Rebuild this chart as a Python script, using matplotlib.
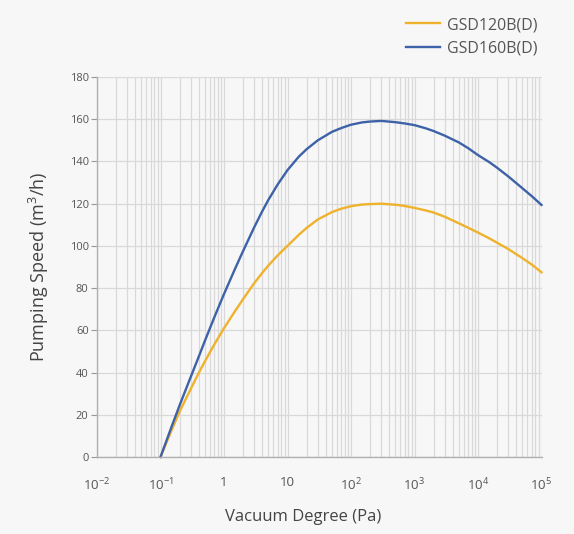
import matplotlib
matplotlib.use("Agg")
import matplotlib.pyplot as plt
from matplotlib.ticker import LogLocator, FixedLocator, NullFormatter

plt.rcParams['font.family'] = ['Open Sans', 'DejaVu Sans']
plt.rcParams['mathtext.fontset'] = 'custom'
plt.rcParams['mathtext.rm'] = 'Open Sans'
plt.rcParams['mathtext.it'] = 'Open Sans'
plt.rcParams['mathtext.default'] = 'regular'

# Data
pressure = [0.1, 0.15, 0.2, 0.3, 0.4, 0.5, 0.7, 1, 1.5, 2, 3, 4, 5, 7, 10, 15, 20, 30,
            50, 70, 100, 150, 200, 300, 500, 700, 1000, 1500, 2000, 3000, 5000, 7000,
            1e4, 1.5e4, 2e4, 3e4, 5e4, 7e4, 1e5]
gsd120 = [0, 12.8, 21.5, 32.3, 39.8, 45.3, 53.2, 61, 69.2, 74.8, 82.4, 87.2, 90.7, 95.5,
          100, 105.2, 108.5, 112.5, 116, 117.6, 118.8, 119.6, 119.8, 120, 119.5,
          118.9, 118, 116.8, 115.8, 113.8, 110.7, 108.6, 106.3, 103.6, 101.5, 98.5,
          94.2, 91.2, 87.5]
gsd160 = [0, 14.5, 24.5, 38, 47.5, 55, 66, 77.2, 89.3, 97.6, 108.9, 116.4, 121.8, 129.1,
          135.9, 142.2, 145.8, 150, 154, 155.8, 157.4, 158.5, 158.9, 159.2, 158.6,
          158, 157.2, 155.7, 154.4, 152.2, 149, 146.3, 143, 139.7, 137, 132.9,
          127.3, 123.6, 119.4]
series_names = ["GSD120B(D)", "GSD160B(D)"]
x_ticks = [1e-2, 1e-1, 1, 10, 1e2, 1e3, 1e4, 1e5]
x_tick_labels = [r"$10^{-2}$", r"$10^{-1}$", "1", "10", r"$10^{2}$", r"$10^{3}$",
                 r"$10^{4}$", r"$10^{5}$"]
y_ticks = list(range(0, 181, 20))

bg = "#f7f7f7"
fig = plt.figure(figsize=(5.74, 5.34), dpi=100, facecolor=bg)
ax = fig.add_axes([97/574, 1-457/534, (541.5-97)/574, (457-77)/534])
ax.set_facecolor(bg)

ax.set_xscale("log")
ax.set_xlim(1e-2, 1e5)
ax.set_ylim(0, 180)

ax.xaxis.set_major_locator(FixedLocator(x_ticks))
ax.set_xticklabels(x_tick_labels)
ax.xaxis.set_minor_locator(LogLocator(base=10, subs=range(2, 10), numticks=100))
ax.xaxis.set_minor_formatter(NullFormatter())
ax.set_yticks(y_ticks)

grid_c = "#d9d9d9"
ax.grid(True, which="both", axis="x", color=grid_c, lw=0.9)
ax.grid(True, which="major", axis="y", color=grid_c, lw=0.9)
ax.set_axisbelow(True)

for s in ["top", "right"]:
    ax.spines[s].set_visible(False)
for s in ["left", "bottom"]:
    ax.spines[s].set_color("#b0b0b0")
    ax.spines[s].set_linewidth(1.0)

ax.tick_params(axis="y", which="major", length=4, color="#999999", labelsize=8,
               labelcolor="#555555", pad=2)
ax.tick_params(axis="x", which="both", length=0, labelsize=9.5, labelcolor="#555555",
               pad=14)

ax.plot(pressure, gsd120, color="#efb22c", lw=1.7, label=series_names[0],
        solid_joinstyle="round", clip_on=False)
ax.plot(pressure, gsd160, color="#3d62a7", lw=1.7, label=series_names[1],
        solid_joinstyle="round", clip_on=False)

ax.set_xlabel("Vacuum Degree (Pa)", fontsize=12, color="#444444")
ax.xaxis.set_label_coords((303.5-97)/444.5, -(517-457)/380, transform=ax.transAxes)
ax.xaxis.label.set_va("center")
ax.set_ylabel(r"Pumping Speed (m$^3$/h)", fontsize=13, color="#444444", labelpad=13)

leg = fig.legend(loc="upper left", bbox_to_anchor=(406/574, 1-17/534), frameon=False,
                 fontsize=11.5, handlelength=2.15, handletextpad=0.4, labelspacing=0.5,
                 borderpad=0, borderaxespad=0, labelcolor="#555555")

fig.savefig("out.png", dpi=100, facecolor=bg)
